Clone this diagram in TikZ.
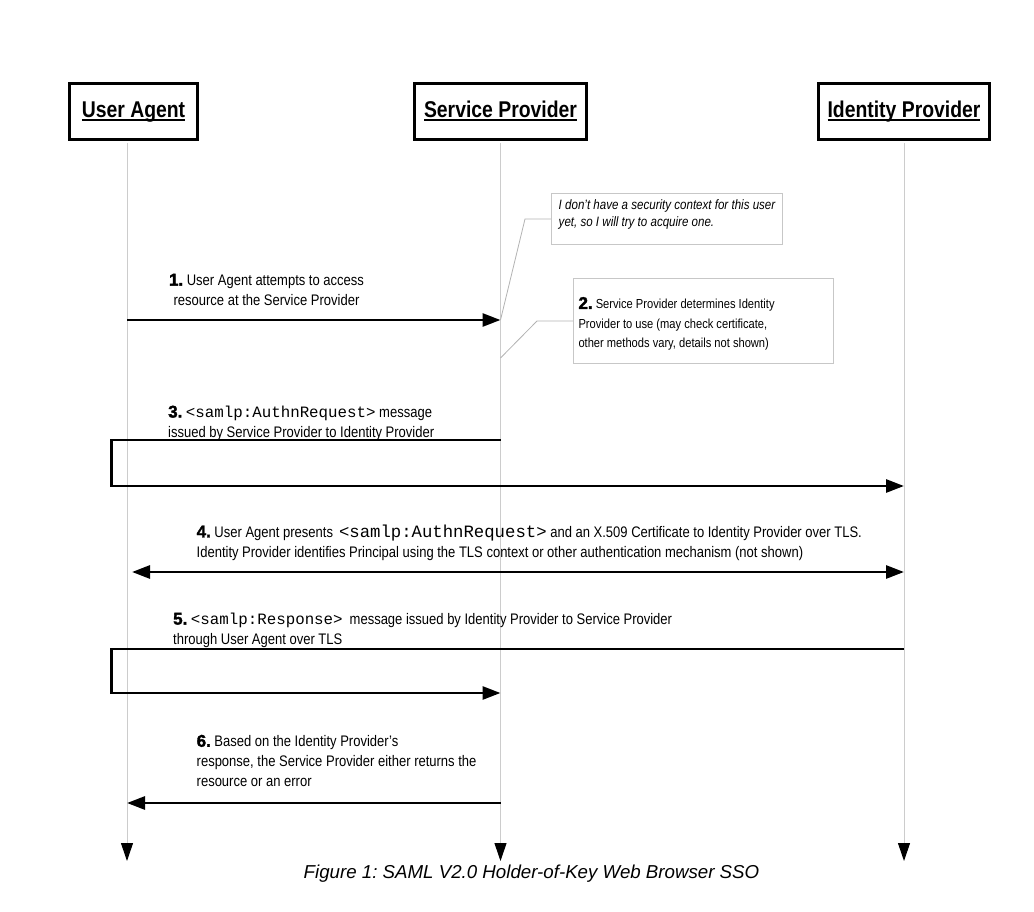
\documentclass[tikz,border=0pt]{standalone}
\usepackage{fontspec}
\setmainfont[FakeStretch=0.85]{Liberation Sans}
\setmonofont{Liberation Mono}
\newfontfamily\capfont{Liberation Sans}
\newfontfamily\numfont[FakeBold=2]{Liberation Sans Bold}
\usetikzlibrary{arrows.meta}
\frenchspacing
\tikzset{actor/.style={draw,line width=3pt,minimum height=56pt,inner sep=0pt,text height=17pt,text depth=4pt,font=\fontsize{22.8}{27}\selectfont\bfseries}}
\tikzset{life/.style={draw=black!20,line width=1pt,-{Triangle[black,length=18pt,width=12pt]}}}
\tikzset{msg/.style={line width=2.8pt,-{Triangle[length=18pt,width=13pt]}}}
\tikzset{lbl/.style={anchor=north west,inner sep=0pt,align=left,font=\fontsize{15.3}{20}\selectfont}}
\tikzset{note/.style={draw=black!22,line width=1pt,anchor=north west,align=left,inner xsep=4pt}}
\tikzset{callout/.style={draw=black!30,line width=0.8pt}}
\newcommand\nr[1]{{\fontsize{17}{20}\numfont #1.}}
\newcommand\xml[2][15.8]{{\ttfamily\fontsize{#1}{20}\selectfont #2}}
\newcommand\hdrline[1]{\setbox0\hbox{#1}\rlap{\rule[-2.7pt]{\wd0}{1.6pt}}\box0}

\begin{document}
\begin{tikzpicture}[x=1pt,y=-1pt]
    \useasboundingbox (0,0) rectangle (1034,912);
    % actors
    \node[actor,minimum width=128pt] (ua) at (133.5,111.5) {\hdrline{User Agent}};
    \node[actor,minimum width=172pt] (sp) at (500.5,111.5) {\hdrline{Service Provider}};
    \node[actor,minimum width=171pt] (idp) at (904,111.5) {\hdrline{Identity Provider}};
    % lifelines
    \coordinate (ual) at (127,143);
    \coordinate (spl) at (500.5,143);
    \coordinate (idl) at (904,143);
    \coordinate (lp) at (111.5,0);
    \draw[life] (ual) -- (ual |- 0,861);
    \draw[life] (spl) -- (spl |- 0,861);
    \draw[life] (idl) -- (idl |- 0,861);
    % notes
    \node[note,minimum width=231pt,minimum height=51pt,font=\fontsize{13.6}{17}\selectfont\itshape] (n1) at (551,193) {I don't have a security context for this user\\yet, so I will try to acquire one.\rule[-11pt]{0pt}{0pt}};
    \node[note,minimum width=260pt,minimum height=85pt,text width=250pt,inner xsep=5pt,align=flush left,font=\fontsize{13.1}{19.5}\selectfont] (n2) at (573,278) {\rule{0pt}{17.6pt}\nr{2} Service Provider determines Identity\\Provider to use (may check certificate,\\other methods vary, details not shown)};
    % messages
    \node[lbl,anchor=north,align=center] (m1) at (266.5,273.7) {\nr{1} User Agent attempts to access\\resource at the Service Provider};
    \draw[msg] (ual |- 0,320) -- (spl |- 0,320);
    \draw[callout] (n1.west) -- ++(-26,0) -- (spl |- 0,320);
    \draw[callout] (n2.west) -- ++(-36,0) -- (spl |- 0,358);
    \node[lbl] (m3) at (168,405.5) {\nr{3} \xml{<samlp:AuthnRequest>} message\\issued by Service Provider to Identity Provider};
    \draw[msg] (spl |- 0,440) -- (lp |- 0,440) -- (lp |- 0,486) -- (idl |- 0,486);
    \node[lbl] (m4) at (196.5,524.7) {\nr{4} User Agent presents\hspace{6pt}\xml[17.3]{<samlp:AuthnRequest>} and an X.509 Certificate to Identity Provider over TLS.\\Identity Provider identifies Principal using the TLS context or other authentication mechanism (not shown)};
    \draw[msg,{Triangle[length=18pt,width=13pt]}-{Triangle[length=18pt,width=13pt]}] ([xshift=5pt]ual |- 0,572) -- (idl |- 0,572);
    \node[lbl] (m5) at (173,612.7) {\nr{5} \xml{<samlp:Response>}\hspace{7pt}message issued by Identity Provider to Service Provider\\through User Agent over TLS};
    \draw[msg] (idl |- 0,649) -- (lp |- 0,649) -- (lp |- 0,693) -- (spl |- 0,693);
    \node[lbl] (m6) at (196.5,734.7) {\nr{6} Based on the Identity Provider's\\response, the Service Provider either returns the\\resource or an error};
    \draw[msg] (spl |- 0,803) -- (ual |- 0,803);
    % caption
    \node[anchor=base,font=\capfont\itshape\fontsize{18.7}{22}\selectfont] (cap) at (531.5,878) {Figure 1: SAML V2.0 Holder-of-Key Web Browser SSO};
\end{tikzpicture}
\end{document}
